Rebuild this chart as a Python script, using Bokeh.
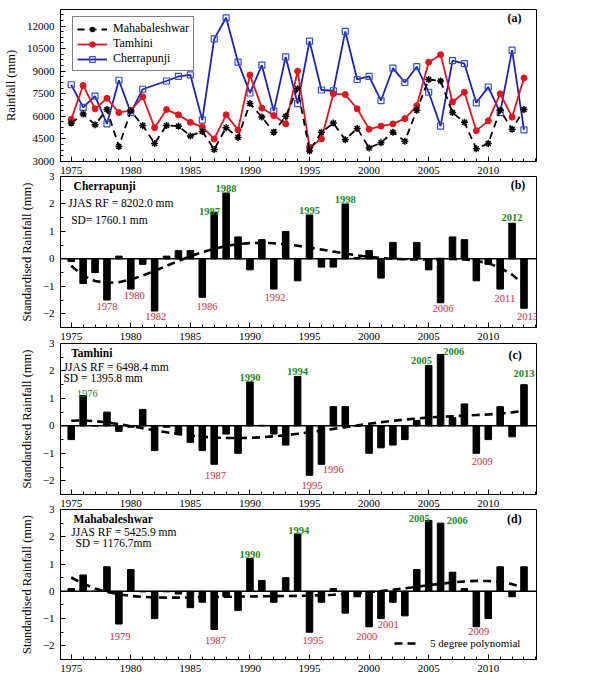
import numpy as np
from bokeh.plotting import figure
from bokeh.layouts import column
from bokeh.models import (Range1d, SingleIntervalTicker, FixedTicker,
                          Legend, LegendItem, Span)
from bokeh.core.properties import value
from bokeh.embed import file_html
from bokeh.resources import INLINE

# ---------------- data ----------------
years = list(range(1975, 2014))

maha_rf = [5550, 6150, 5450, 6450, 4000, 6350, 5400, 4200, 5400, 5350,
           4700, 5000, 3800, 5250, 4600, 6850, 5950, 4950, 6000, 7850,
           3700, 4950, 5550, 4450, 5200, 3900, 4250, 4950, 4350, 6400,
           8450, 8350, 6250, 5600, 3850, 4200, 6400, 5150, 6450]
tamh_rf = [5800, 8050, 6500, 7200, 6250, 6400, 7300, 5250, 6450, 6100,
           5600, 5300, 4500, 6100, 5100, 8750, 6550, 6050, 5500, 9000,
           3950, 4500, 7500, 7450, 6500, 5150, 5350, 5500, 5850, 6700,
           9600, 10100, 6950, 7600, 5050, 5700, 7500, 5950, 8550]
cherra_rf = [8100, 6600, 7350, 5500, 8400, 6250, 7800, None, 8350, 8650,
             8750, 5750, 11150, 12550, 9600, 7550, 9400, 6350, 9950, 6850,
             11000, 7750, 7700, 11650, 8450, 8650, 7050, 9200, 8250, 9300,
             7600, 5350, 9700, 9500, 6900, 7950, 6250, 10400, 5100]

cherra_sd = [-0.1, -0.9, -0.5, -1.5, 0.1, -1.1, -0.2, -1.9, 0.1, 0.3,
             0.3, -1.4, 1.7, 2.4, 0.8, -0.4, 0.7, -1.1, 1.0, -0.8,
             1.6, -0.3, -0.3, 2.0, 0.05, 0.3, -0.7, 0.6, -0.03, 0.6,
             -0.4, -1.6, 0.8, 0.7, -0.8, -0.2, -1.1, 1.3, -1.8]
tamh_sd = [-0.5, 1.1, 0.0, 0.5, -0.2, -0.05, 0.6, -0.9, -0.05, -0.3,
           -0.6, -0.9, -1.4, -0.3, -1.0, 1.6, 0.02, -0.3, -0.7, 1.8,
           -1.8, -1.4, 0.7, 0.7, 0.0, -1.0, -0.8, -0.7, -0.5, 0.2,
           2.2, 2.6, 0.3, 0.8, -1.0, -0.5, 0.7, -0.4, 1.5]
maha_sd = [0.1, 0.6, 0.0, 0.9, -1.2, 0.8, -0.02, -1.0, -0.02, -0.1,
           -0.6, -0.4, -1.4, -0.2, -0.7, 1.2, 0.4, -0.4, 0.5, 2.1,
           -1.5, -0.4, 0.1, -0.8, -0.2, -1.3, -1.0, -0.4, -0.9, 0.8,
           2.6, 2.5, 0.7, 0.1, -1.3, -1.0, 0.9, -0.2, 0.9]

cherra_hi = [1987, 1988, 1995, 1998, 2012]
cherra_lo = [1978, 1980, 1982, 1986, 1992, 2006, 2011, 2013]
tamh_hi = [1976, 1990, 1994, 2005, 2006, 2013]
tamh_lo = [1987, 1995, 1996, 2009]
maha_hi = [1990, 1994, 2005, 2006]
maha_lo = [1979, 1987, 1995, 2000, 2001, 2009]

rf_ticks = [3000, 4500, 6000, 7500, 9000, 10500, 12000]
sd_ticks = [-2, -1, 0, 1, 2, 3]

# label nudges (years, std units)
cherra_nudge = {1987: (-0.4, -0.14), 2012: (0, 0.04), 1980: (0.3, 0.03), 1986: (0.4, -0.08),
                1992: (0.1, -0.05), 2006: (0.2, 0.03), 2011: (0.4, -0.1), 2013: (0.3, -0.05),
                1982: (0.1, 0.06)}
tamh_nudge = {1976: (0.35, -0.09), 2005: (-0.6, 0), 2006: (1.1, -0.06), 2013: (0, 0.22),
              1987: (0.1, -0.17), 1995: (0.2, -0.13), 1996: (1.0, 0.04), 2009: (0.5, -0.04)}
maha_nudge = {2005: (-0.8, -0.1), 2006: (1.4, -0.07), 1994: (0.1, -0.06), 1990: (0, -0.03),
              1979: (0.1, -0.22), 1987: (0.1, -0.14), 1995: (0.3, -0.07), 2000: (-0.2, -0.12),
              2001: (0.6, 0.04), 2009: (0.2, 0.06)}

FONT = "Liberation Serif"
GREEN = "#1a8c1a"
RED = "#d42a3c"
X0, X1 = 1974.1, 2014.05
FW = 476


def style_axis(ax):
    ax.axis_line_color = "black"
    ax.axis_line_width = 1
    ax.major_tick_in = 5
    ax.major_tick_out = 0
    ax.minor_tick_in = 3
    ax.minor_tick_out = 0
    ax.major_tick_line_color = "black"
    ax.minor_tick_line_color = "black"
    ax.major_label_text_font = FONT
    ax.major_label_text_font_size = "11px"
    ax.major_label_text_color = "black"
    ax.axis_label_text_font = FONT
    ax.axis_label_text_font_size = "12.5px"
    ax.axis_label_text_font_style = "normal"
    ax.axis_label_text_color = "black"


def base_fig(y_range, fh, top, bottom, ylabel, yticks, yminor, shift=0):
    p = figure(frame_width=FW, frame_height=fh, x_range=Range1d(X0, X1), y_range=y_range,
               output_backend="svg", toolbar_location=None,
               min_border_left=53, min_border_right=12,
               min_border_top=top, min_border_bottom=bottom,
               margin=(shift, 0, 0, 0))
    p.border_fill_color = None
    p.border_fill_alpha = 0
    p.xgrid.visible = False
    p.ygrid.visible = False
    p.outline_line_color = "black"
    p.outline_line_alpha = 1
    p.outline_line_width = 1
    xa = p.xaxis[0]
    xa.ticker = SingleIntervalTicker(interval=5, num_minor_ticks=5)
    style_axis(xa)
    xa.major_label_standoff = 5
    ya = p.yaxis[0]
    ya.ticker = FixedTicker(ticks=yticks, minor_ticks=yminor)
    style_axis(ya)
    ya.axis_label = ylabel
    ya.major_label_standoff = 6
    ya.axis_label_standoff = 6
    return p


def info(p, lines):
    for (txt, x, y, bold) in lines:
        p.text(x=[x], y=[y], text=[txt], text_font=value(FONT), text_font_size="11.5px",
               text_font_style="bold" if bold else "normal", text_align="left",
               text_baseline="middle", text_color="black")


def year_labels(p, vals, hi, lo, nudge, normal_hi=()):
    for yr in hi:
        dx, dy = nudge.get(yr, (0, 0))
        v = vals[years.index(yr)]
        p.text(x=[yr + dx], y=[v + 0.05 + dy], text=[str(yr)], text_font=value(FONT),
               text_font_size="10.5px", text_font_style="normal" if yr in normal_hi else "bold",
               text_align="center", text_baseline="bottom", text_color=GREEN)
    for yr in lo:
        dx, dy = nudge.get(yr, (0, 0))
        v = vals[years.index(yr)]
        p.text(x=[yr + dx], y=[v - 0.12 + dy], text=[str(yr)], text_font=value(FONT),
               text_font_size="10.5px", text_font_style="normal",
               text_align="center", text_baseline="top", text_color=RED)


def poly5(vals):
    xs = (np.array(years) - 1994.0) / 10.0
    c = np.polyfit(xs, np.array(vals), 5)
    return np.polyval(c, xs)


sd_minor = [-2.5, -1.5, -0.5, 0.5, 1.5, 2.5]
rf_minor = list(np.arange(3000, 13101, 375))

# ---------------- panel (a) ----------------
pa = base_fig(Range1d(3000, 13100), 152, 9, 18, "Rainfall (mm)", rf_ticks, rf_minor)

cx = [y for y, v in zip(years, cherra_rf) if v is not None]
cy = [v for v in cherra_rf if v is not None]
l3 = pa.line(cx, cy, line_color="#1c22b4", line_width=1.8)
s3 = pa.scatter(cx, cy, marker="square", size=6, line_color="#2f4fd6", fill_color=None, line_width=1.2)
l2 = pa.line(years, tamh_rf, line_color="#e3141c", line_width=1.8)
s2 = pa.scatter(years, tamh_rf, marker="circle", size=6, line_color="#e3141c", fill_color="#e3141c")
l1 = pa.line(years, maha_rf, line_color="black", line_width=1.8, line_dash="7 5")
s1 = pa.scatter(years, maha_rf, marker="asterisk", size=7, line_color="black", line_width=1.5)

leg = Legend(items=[LegendItem(label="Mahabaleshwar", renderers=[l1, s1]),
                    LegendItem(label="Tamhini", renderers=[l2, s2]),
                    LegendItem(label="Cherrapunji", renderers=[l3, s3])],
             location=(12, 90))
leg.border_line_color = "black"
leg.border_line_width = 1
leg.background_fill_color = "white"
leg.background_fill_alpha = 1
leg.padding = 4
leg.spacing = 0
leg.margin = 0
leg.label_height = 14
leg.glyph_height = 14
leg.glyph_width = 30
leg.label_standoff = 6
leg.label_text_font = FONT
leg.label_text_font_size = "12px"
leg.label_text_color = "black"
pa.add_layout(leg)
pa.text(x=[2012.2], y=[12510], text=["(a)"], text_font=value(FONT), text_font_size="12px",
        text_font_style="bold", text_align="center", text_baseline="middle")


def sd_panel(vals, fh, bottom, shift, texts, tag, tagxy, hi, lo, nudge, normal_hi=()):
    p = base_fig(Range1d(-2.5, 3), fh, 6, bottom, "Standardised Rainfall (mm)", sd_ticks, sd_minor,
                 shift=shift)
    p.add_layout(Span(location=0, dimension="width", line_color="black", line_width=1.5))
    p.vbar(x=years, top=vals, bottom=0, width=0.55, fill_color="black", line_color="black")
    r = p.line(years, poly5(vals), line_color="black", line_width=2.6, line_dash="8 5")
    info(p, texts)
    p.text(x=[tagxy[0]], y=[tagxy[1]], text=[tag], text_font=value(FONT), text_font_size="12px",
           text_font_style="bold", text_align="center", text_baseline="middle")
    year_labels(p, vals, hi, lo, nudge, normal_hi)
    return p, r


pb, _ = sd_panel(cherra_sd, 151, 18, -9,
                 [("Cherrapunji", 1975.2, 2.66, True),
                  ("JJAS RF = 8202.0 mm", 1974.75, 2.02, False),
                  ("SD= 1760.1 mm", 1975.0, 1.43, False)],
                 "(b)", (2012.5, 2.7), cherra_hi, cherra_lo, cherra_nudge)

pc, _ = sd_panel(tamh_sd, 151, 18, -8,
                 [("Tamhini", 1975.0, 2.65, True),
                  ("JJAS RF = 6498.4 mm", 1974.35, 2.16, False),
                  ("SD = 1395.8 mm", 1974.35, 1.73, False)],
                 "(c)", (2012.25, 2.59), tamh_hi, tamh_lo, tamh_nudge, normal_hi=(1976,))

pd_, rpoly = sd_panel(maha_sd, 150, 18, -9,
                      [("Mahabaleshwar", 1975.2, 2.64, True),
                       ("JJAS RF = 5425.9 mm", 1975.0, 2.19, False),
                       ("SD =  1176.7mm", 1975.35, 1.79, False)],
                      "(d)", (2012.2, 2.66), maha_hi, maha_lo, maha_nudge)

leg2 = Legend(items=[LegendItem(label="5 degree polynomial", renderers=[rpoly])], location=(334, 9))
leg2.border_line_color = None
leg2.background_fill_alpha = 0
leg2.padding = 0
leg2.margin = 0
leg2.glyph_width = 26
leg2.glyph_height = 14
leg2.label_height = 14
leg2.label_standoff = 10
leg2.label_text_font = FONT
leg2.label_text_font_size = "11px"
leg2.label_text_color = "black"
pd_.add_layout(leg2)

layout = column(pa, pb, pc, pd_, spacing=0)
open("out.html", "w").write(file_html(layout, INLINE))
